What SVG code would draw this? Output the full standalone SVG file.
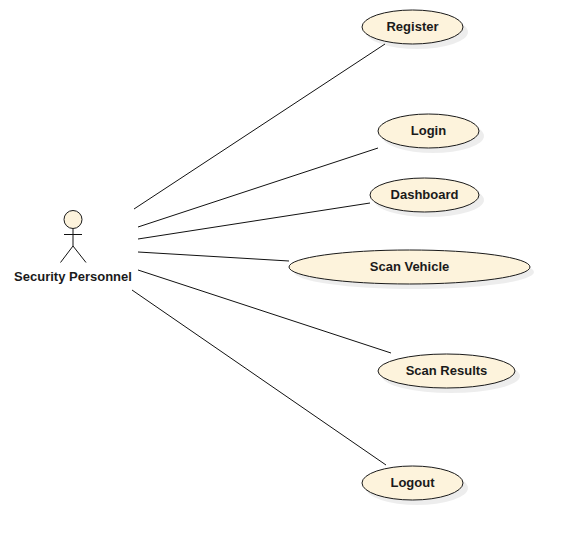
<svg xmlns="http://www.w3.org/2000/svg" width="570" height="540" viewBox="0 0 570 540">
<style>
.uc{fill:#fdf3dc;stroke:#1a1a1a;stroke-width:1}
.sh{fill:#000;fill-opacity:.07;stroke:none}
.ln{fill:none;stroke:#111;stroke-width:1}
text{font-family:"Liberation Sans",Arial,sans-serif;font-size:13px;font-weight:bold;text-anchor:middle;fill:#1a1a1a;stroke:none}
</style>
<rect width="570" height="540" fill="#fff"/>
<g id="connectors" class="ln">
<line x1="134" y1="209" x2="385" y2="44"/>
<line x1="138" y1="227" x2="378" y2="148"/>
<line x1="138" y1="239" x2="370" y2="203"/>
<line x1="138" y1="252" x2="289" y2="261"/>
<line x1="138" y1="270" x2="391" y2="353"/>
<line x1="132" y1="290" x2="386" y2="465"/>
</g>
<g id="actor">
<g class="ln">
<line x1="73" y1="228.500" x2="73" y2="246"/>
<line x1="64" y1="234.500" x2="82" y2="234.500"/>
<line x1="73" y1="246" x2="60.500" y2="262.500"/>
<line x1="73" y1="246" x2="86" y2="262.500"/>
</g>
<circle cx="73" cy="219.500" r="9" class="uc"/>
<text x="73" y="281">Security Personnel</text>
</g>
<g id="register"><ellipse class="sh" cx="417" cy="32" rx="51" ry="17"/><ellipse class="uc" cx="412.500" cy="27" rx="50.500" ry="17"/><text x="412.500" y="31">Register</text></g>
<g id="login"><ellipse class="sh" cx="433" cy="136" rx="51" ry="17"/><ellipse class="uc" cx="428.500" cy="131" rx="50.500" ry="17"/><text x="428.500" y="135">Login</text></g>
<g id="dashboard"><ellipse class="sh" cx="429" cy="200" rx="55" ry="17"/><ellipse class="uc" cx="424.500" cy="195" rx="54.500" ry="17"/><text x="424.500" y="199">Dashboard</text></g>
<g id="scan-vehicle"><ellipse class="sh" cx="414" cy="272" rx="120" ry="17"/><ellipse class="uc" cx="409.500" cy="267" rx="120.500" ry="17"/><text x="409.500" y="271">Scan Vehicle</text></g>
<g id="scan-results"><ellipse class="sh" cx="451" cy="376" rx="69" ry="17"/><ellipse class="uc" cx="446.500" cy="371" rx="68.500" ry="17"/><text x="446.500" y="375">Scan Results</text></g>
<g id="logout"><ellipse class="sh" cx="417" cy="488" rx="51" ry="17"/><ellipse class="uc" cx="412.500" cy="483" rx="50.500" ry="17"/><text x="412.500" y="487">Logout</text></g>
</svg>
